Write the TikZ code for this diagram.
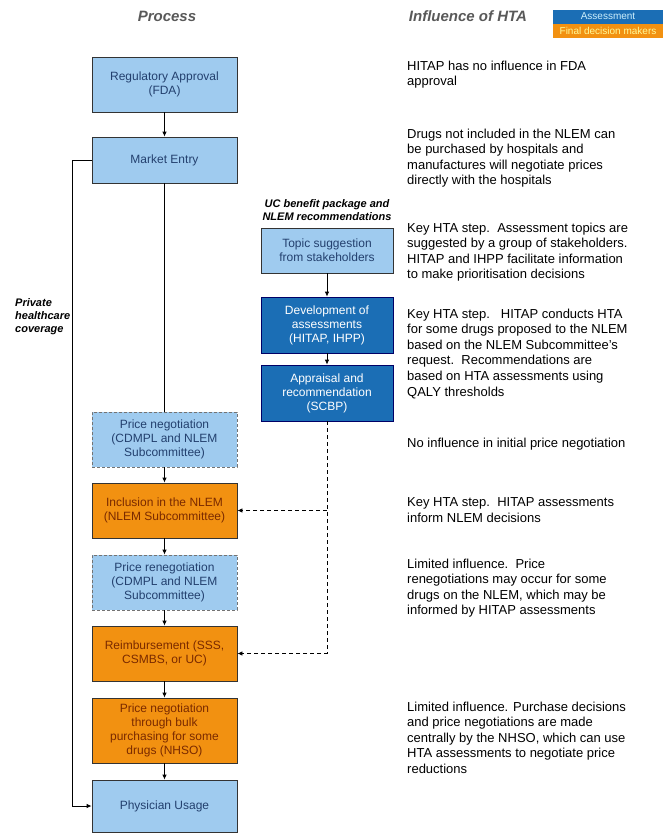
\documentclass[tikz,border=0pt]{standalone}
\usepackage{fontspec}
\setmainfont{Liberation Sans}
\usetikzlibrary{arrows.meta,positioning}
\definecolor{boxblue}{HTML}{9FCBEF}
\definecolor{hitablue}{HTML}{1B6EB5}
\definecolor{deciorange}{HTML}{F29111}
\definecolor{headgray}{HTML}{595959}
\definecolor{navytext}{HTML}{23406E}
\definecolor{browntext}{HTML}{7A2A00}

\begin{document}
\begin{tikzpicture}[x=1pt,y=-1pt,
    bx/.style={draw=black!80,line width=0.8pt,fill=boxblue,text=navytext,align=center,
               minimum width=145pt,inner sep=2pt,font=\fontsize{12}{14}\selectfont},
    dbx/.style={bx,draw=black!55,dash pattern=on 3pt off 2pt},
    hb/.style={bx,fill=hitablue,text=white,minimum width=132pt,draw=black!60!blue},
    ob/.style={bx,fill=deciorange,text=browntext},
    note/.style={anchor=north west,align=left,inner sep=0pt,font=\fontsize{13}{15.6}\selectfont},
    hd/.style={font=\fontsize{15}{18}\selectfont\bfseries\itshape,text=headgray},
    sub/.style={font=\fontsize{11}{13}\selectfont\bfseries\itshape,inner sep=0pt},
    lg/.style={minimum width=110pt,minimum height=14pt,inner sep=0pt,font=\fontsize{10}{11}\selectfont},
    lnk/.style={-{Latex[length=5pt,width=4.5pt]},line width=0.8pt},
    dlnk/.style={lnk,dash pattern=on 4pt off 3pt}]

  \useasboundingbox (0,0) rectangle (665,833);

  \node[hd] (hproc) at (167,16) {Process};
  \node[hd] (hinf) at (468,16) {Influence of HTA};

  \node[lg,fill=hitablue,text=cyan!20] (legA) at (608,16.5) {Assessment};
  \node[lg,fill=deciorange,text=yellow!40,below=0pt of legA] (legF) {Final decision makers};

  \node[bx,minimum height=55pt] (reg) at (164.5,84.5) {Regulatory Approval\\(FDA)};
  \node[bx,minimum height=46pt] (mkt) at (164.5,160) {Market Entry};
  \node[dbx,minimum height=55pt] (pneg) at (164.5,439.5)
    {Price negotiation\\(CDMPL and NLEM\\Subcommittee)};
  \node[ob,minimum height=55pt] (incl) at (164.5,510.5)
    {Inclusion in the NLEM\\(NLEM Subcommittee)};
  \node[dbx,minimum height=55pt] (preneg) at (164.5,582.5)
    {Price renegotiation\\(CDMPL and NLEM\\Subcommittee)};
  \node[ob,minimum height=55pt] (reimb) at (164.5,653.5)
    {Reimbursement (SSS,\\CSMBS, or UC)};
  \node[ob,minimum height=65pt] (bulk) at (164.5,730.5)
    {Price negotiation\\through bulk\\purchasing for some\\drugs (NHSO)};
  \node[bx,minimum height=52pt] (phys) at (164.5,806) {Physician Usage};

  \node[sub,align=center] (uc) at (327,210) {UC benefit package and\\NLEM recommendations};
  \node[bx,minimum width=132pt,minimum height=45pt] (topic) at (327,250.5)
    {Topic suggestion\\from stakeholders};
  \node[hb,minimum height=56pt] (dev) at (327,325) {Development of\\assessments\\(HITAP, IHPP)};
  \node[hb,minimum height=56pt] (appr) at (327,393) {Appraisal and\\recommendation\\(SCBP)};

  \node[sub,align=left,anchor=west] (priv) at (15,317) {Private\\healthcare\\coverage};

  \node[note] (n1) at (407,60.5) {HITAP has no influence in FDA\\approval};
  \node[note] (n2) at (407,128.5) {Drugs not included in the NLEM can\\be purchased by hospitals and\\manufactures will negotiate prices\\directly with the hospitals};
  \node[note] (n3) at (407,222.5) {Key HTA step.\ \ Assessment topics are\\suggested by a group of stakeholders.\\HITAP and IHPP facilitate information\\to make prioritisation decisions};
  \node[note] (n4) at (407,308.5) {Key HTA step.\ \ \ HITAP conducts HTA\\for some drugs proposed to the NLEM\\based on the NLEM Subcommittee's\\request.\ \ Recommendations are\\based on HTA assessments using\\QALY thresholds};
  \node[note] (n5) at (407,437.5) {No influence in initial price negotiation};
  \node[note] (n6) at (407,497.5) {Key HTA step.\ \ HITAP assessments\\inform NLEM decisions};
  \node[note] (n7) at (407,558.5) {Limited influence.\ \ Price\\renegotiations may occur for some\\drugs on the NLEM, which may be\\informed by HITAP assessments};
  \node[note] (n8) at (407,701.5) {Limited influence. Purchase decisions\\and price negotiations are made\\centrally by the NHSO, which can use\\HTA assessments to negotiate price\\reductions};

  \draw[lnk] (reg) -- (mkt);
  \draw[line width=0.8pt] (mkt) -- (pneg);
  \draw[lnk] (pneg) -- (incl);
  \draw[lnk] (incl) -- (preneg);
  \draw[lnk] (preneg) -- (reimb);
  \draw[lnk] (reimb) -- (bulk);
  \draw[lnk] (bulk) -- (phys);
  \draw[lnk] (mkt.west) -- ++(-19,0) |- (phys.west);

  \draw[lnk] (topic) -- (dev);
  \draw[lnk] (dev) -- (appr);
  \draw[dlnk] (appr.south) |- (reimb.east);
  \draw[dlnk] (appr.south |- incl.east) -- (incl.east);
\end{tikzpicture}
\end{document}
